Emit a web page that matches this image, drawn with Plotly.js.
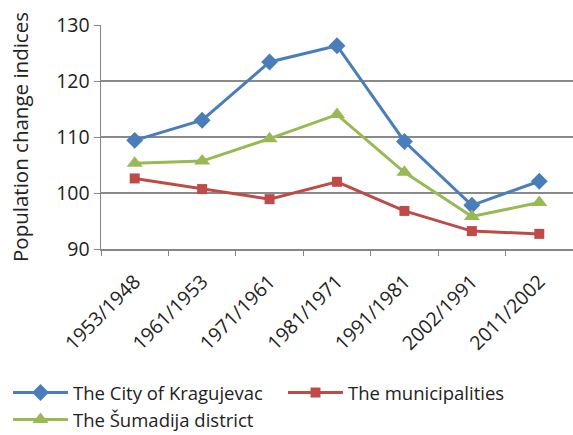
<!DOCTYPE html>
<html>
<head>
<meta charset="utf-8">
<script src="https://cdn.plot.ly/plotly-3.0.1.min.js"></script>
<style>html,body{margin:0;padding:0;background:#fff;}#chart{width:573px;height:435px;}</style>
</head>
<body>
<div id="chart"></div>
<script>
var categories = ["1953/1948", "1961/1953", "1971/1961", "1981/1971", "1991/1981", "2002/1991", "2011/2002"];
var cityName = "The City of Kragujevac";
var cityValues = [109.4, 113.0, 123.4, 126.3, 109.2, 97.8, 102.1];
var munName = "The municipalities";
var munValues = [102.6, 100.7, 98.9, 102.0, 96.8, 93.2, 92.7];
var distName = "The Šumadija district";
var distValues = [105.3, 105.7, 109.7, 114.0, 103.7, 95.8, 98.3];
var yTicks = [90, 100, 110, 120, 130];

var font = "'Open Sans', 'Noto Sans', sans-serif";
function tr(name, vals, color, symbol, size) {
  return {
    x: categories, y: vals, name: name, type: "scatter", mode: "lines+markers",
    line: {color: color, width: 3},
    marker: {color: color, symbol: symbol, size: size}
  };
}
var data = [
  tr(cityName, cityValues, "#4A7EBB", "diamond", 13),
  tr(munName, munValues, "#BE4B48", "square", 10),
  tr(distName, distValues, "#98B954", "triangle-up", 14)
];
var layout = {
  width: 573, height: 435,
  margin: {l: 101, r: 0, t: 25, b: 186, autoexpand: false},
  paper_bgcolor: "#fff", plot_bgcolor: "#fff",
  font: {family: font, color: "#222", size: 18},
  showlegend: true,
  xaxis: {
    type: "category", tickson: "boundaries", showgrid: false,
    showline: true, linecolor: "#868686", linewidth: 1.5,
    ticks: "outside", ticklen: 5, tickcolor: "#868686",
    tickangle: -45, tickfont: {size: 19.5, family: font}, ticklabelstandoff: 12,
    range: [-0.5, 6.5]
  },
  yaxis: {
    range: [90, 130], tickvals: yTicks, showgrid: true, gridcolor: "#8a8a8a", gridwidth: 1.5,
    showline: true, linecolor: "#868686", linewidth: 1.5,
    ticks: "outside", ticklen: 6, tickcolor: "#868686", ticksuffix: "\u00a0\u00a0",
    tickfont: {size: 19.5, family: font}, zeroline: false,
    title: {text: "Population change indices", font: {size: 20.5, family: font}, standoff: 22}
  },
  legend: {
    orientation: "h", x: -93 / 472, xanchor: "left", y: -125 / 224, yanchor: "top",
    font: {size: 18.5, family: font}, itemwidth: 55, entrywidth: 205, entrywidthmode: "pixels",
    bgcolor: "rgba(0,0,0,0)"
  }
};
Plotly.newPlot("chart", data, layout, {displayModeBar: false, staticPlot: true});
</script>
</body>
</html>
